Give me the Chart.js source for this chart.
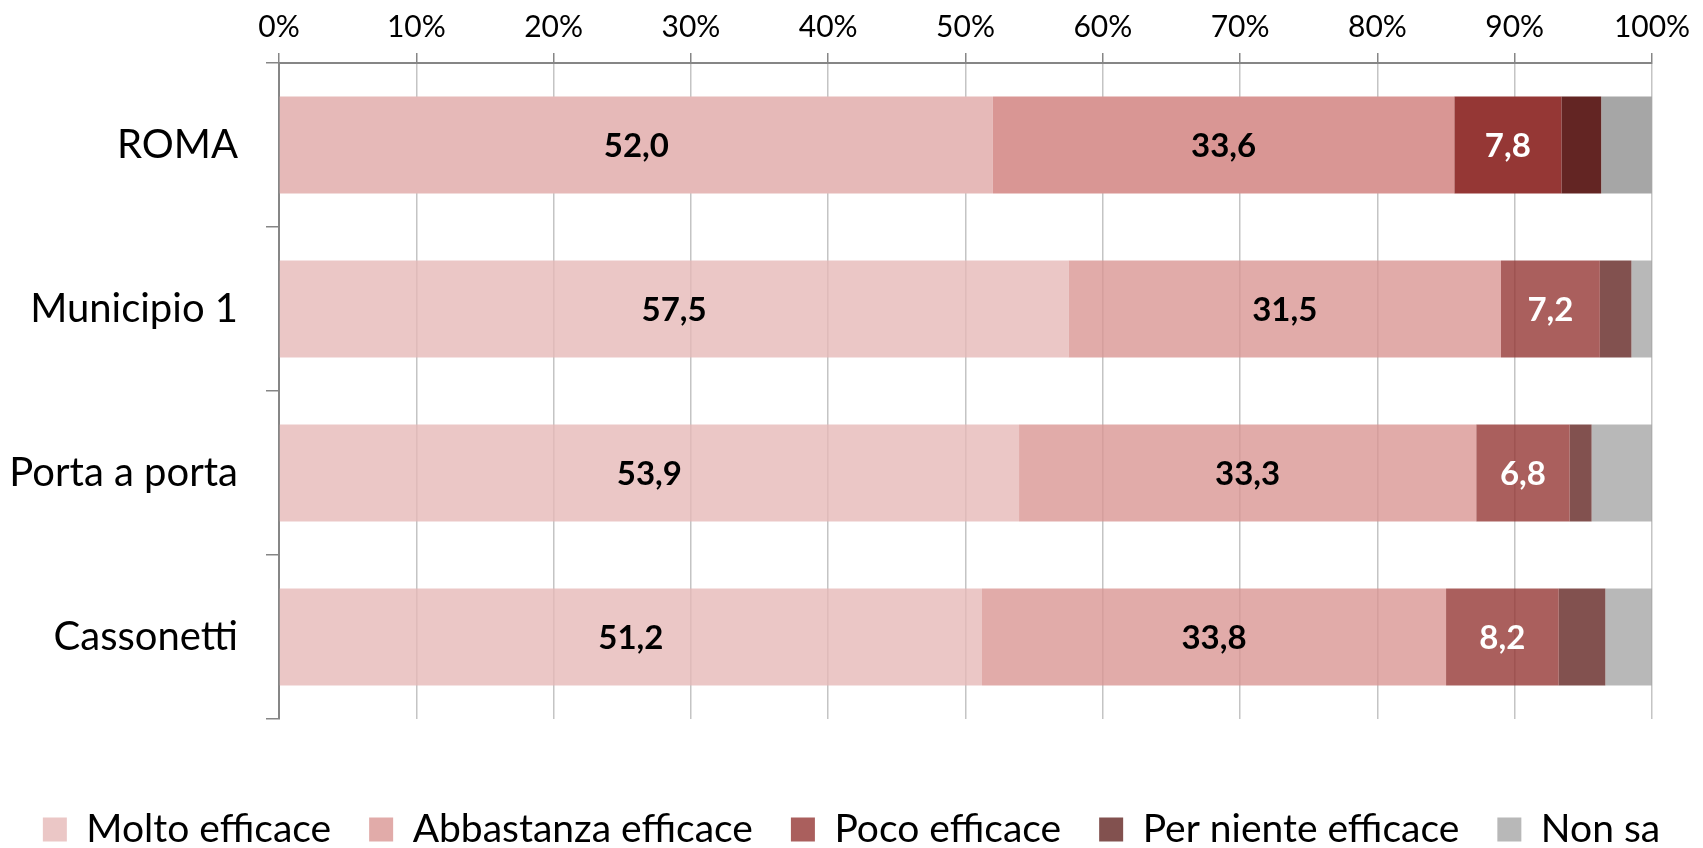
<!DOCTYPE html>
<html>
<head>
<meta charset="utf-8">
<script src="https://cdn.jsdelivr.net/npm/chart.js@4/dist/chart.umd.min.js"></script>
<style>
  html, body { margin: 0; padding: 0; background: #fff; }
  #wrap { width: 1703px; height: 848px; }
</style>
</head>
<body>
<div id="wrap"><canvas id="myChart" width="1703" height="848"></canvas></div>
<script>
// categories and series (percentages)
const categories = ['ROMA', 'Municipio 1', 'Porta a porta', 'Cassonetti'];
const seriesNames = ['Molto efficace', 'Abbastanza efficace', 'Poco efficace', 'Per niente efficace', 'Non sa'];
const molto = [52.0, 57.5, 53.9, 51.2];
const abbastanza = [33.6, 31.5, 33.3, 33.8];
const poco = [7.8, 7.2, 6.8, 8.2];
const perNiente = [2.9, 2.3, 1.6, 3.4];
const nonSa = [3.7, 1.5, 4.4, 3.4];
const xTicks = [0, 10, 20, 30, 40, 50, 60, 70, 80, 90, 100];

// ROMA bar is solid, the others are the same colours a bit faded
const baseColors = [[230, 185, 184], [217, 150, 148], [149, 55, 53], [99, 37, 35], [166, 166, 166]];
const solid = c => `rgb(${c[0]},${c[1]},${c[2]})`;
const faded = c => `rgba(${c[0]},${c[1]},${c[2]},0.8)`;

const FONT = 'Lato, "Open Sans", sans-serif';

// draws the value inside the first three segments
const valueLabels = {
  id: 'valueLabels',
  afterDatasetsDraw(chart) {
    const ctx = chart.ctx;
    ctx.save();
    ctx.font = 'bold 33px ' + FONT;
    ctx.textAlign = 'center';
    ctx.textBaseline = 'middle';
    [0, 1, 2].forEach(di => {
      const meta = chart.getDatasetMeta(di);
      meta.data.forEach((bar, i) => {
        const v = chart.data.datasets[di].data[i];
        ctx.fillStyle = di === 2 ? '#ffffff' : '#000000';
        ctx.fillText(v.toFixed(1).replace('.', ','), (bar.x + bar.base) / 2, bar.y + 1);
      });
    });
    ctx.restore();
  }
};

const allSeries = [molto, abbastanza, poco, perNiente, nonSa];

const ctx = document.getElementById('myChart').getContext('2d');
const chart = new Chart(ctx, {
  type: 'bar',
  data: {
    labels: categories,
    datasets: allSeries.map((vals, k) => ({
      label: seriesNames[k],
      data: vals,
      backgroundColor: categories.map((c, i) => i === 0 ? solid(baseColors[k]) : faded(baseColors[k])),
      borderWidth: 0,
      barPercentage: 0.59,
      categoryPercentage: 1.0
    }))
  },
  options: {
    indexAxis: 'y',
    responsive: false,
    animation: false,
    layout: { padding: { left: 0, right: 0, top: 1, bottom: -11 } },
    scales: {
      x: {
        position: 'top',
        stacked: true,
        min: 0,
        max: 100,
        afterBuildTicks: axis => { axis.ticks = xTicks.map(v => ({ value: v })); },
        ticks: {
          callback: v => v + '%',
          font: { family: FONT, size: 30 },
          color: '#000',
          padding: 8
        },
        grid: { color: '#C4C4C4', lineWidth: 1.5, tickLength: 10, tickColor: '#868686' },
        border: { color: '#868686', width: 2 }
      },
      y: {
        stacked: true,
        afterFit: s => { s.width = 279; },
        ticks: {
          font: { family: FONT, size: 40 },
          color: '#000',
          padding: 28
        },
        grid: { offset: true, drawOnChartArea: false, tickLength: 13, color: '#868686', lineWidth: 1.5 },
        border: { color: '#868686', width: 2 }
      },
      // empty axis on the right, only keeps the white margin
      yr: {
        position: 'right',
        afterFit: s => { s.width = 51; },
        ticks: { display: false },
        grid: { display: false },
        border: { display: false }
      }
    },
    plugins: {
      tooltip: { enabled: false },
      legend: {
        position: 'bottom',
        title: { display: true, text: ' ', font: { size: 10 }, padding: { top: 20, bottom: 21 } },
        labels: {
          font: { family: FONT, size: 39 },
          color: '#000',
          boxWidth: 24,
          boxHeight: 24,
          padding: 38,
          generateLabels(chart) {
            return chart.data.datasets.map((ds, k) => ({
              text: ds.label,
              fillStyle: faded(baseColors[k]),
              strokeStyle: 'rgba(0,0,0,0)',
              fontColor: '#000000',
              lineWidth: 0,
              hidden: false,
              datasetIndex: k
            }));
          }
        }
      }
    }
  },
  plugins: [valueLabels]
});
</script>
</body>
</html>
